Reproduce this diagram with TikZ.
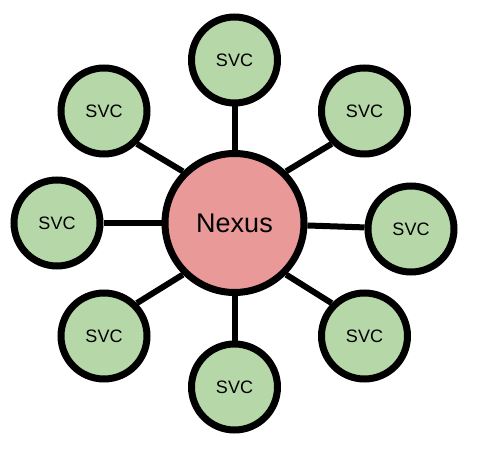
\documentclass[tikz,border=0pt]{standalone}
\usepackage{fontspec}
\setmainfont{Liberation Sans}
\usepackage{tikz}
\definecolor{svcgreen}{HTML}{B6D7A8}
\definecolor{nexuspink}{HTML}{EA9999}

\begin{document}
\begin{tikzpicture}[x=1pt,y=-1pt,line width=6pt]
  \tikzstyle{svc}=[circle,draw=black,line width=7pt,fill=svcgreen,inner sep=0pt,
                   minimum size=86pt,font=\fontsize{18}{20}\selectfont]
  \tikzstyle{hub}=[circle,draw=black,line width=7pt,fill=nexuspink,inner sep=0pt,
                   minimum size=139pt,font=\fontsize{27}{30}\selectfont]

  \useasboundingbox (0,0) rectangle (479,462);

  \node[hub] (N)  at (234.5,223) {Nexus};

  \node[svc] (T)  at (234.5,60)  {SVC};
  \node[svc] (TR) at (364.5,111) {SVC};
  \node[svc] (R)  at (411,229)   {SVC};
  \node[svc] (BR) at (364.5,336) {SVC};
  \node[svc] (B)  at (234.5,387) {SVC};
  \node[svc] (BL) at (104,336)   {SVC};
  \node[svc] (L)  at (57,223)    {SVC};
  \node[svc] (TL) at (104,111)   {SVC};

  \path (N) edge (T)
            edge (R)
            edge (B)
            edge (L);
  \path (N.45)  edge (TR.-135)
        (N.-45) edge (BR.135)
        (N.-135) edge (BL.45)
        (N.135) edge (TL.-45);
\end{tikzpicture}
\end{document}
